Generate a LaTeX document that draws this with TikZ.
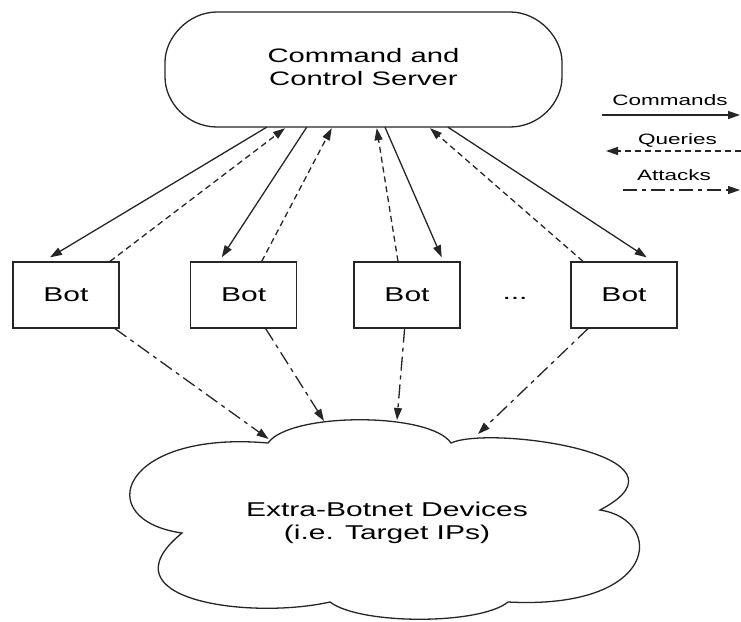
\documentclass[tikz,border=0pt]{standalone}
\usepackage{fontspec}
\setmainfont{Liberation Sans}
\usetikzlibrary{arrows.meta,calc}
\newcommand\wx[1]{\scalebox{1.5}[1]{#1}}
\begin{document}
\begin{tikzpicture}[x=1pt,y=-1pt,
  ln/.style={line width=1.3pt, draw=black!85},
  tipend/.style={-{Triangle[length=12pt,width=8pt]}},
  cmd/.style={ln,tipend},
  qry/.style={ln,tipend,dash pattern=on 6pt off 4pt},
  atk/.style={ln,tipend,dash pattern=on 14pt off 5pt on 4pt off 5pt},
  shapeline/.style={line width=1.3pt, draw=black!85},
  botbox/.style={shapeline, draw, minimum width=106pt, minimum height=66pt, inner sep=0pt, font=\fontsize{20}{24}\selectfont},
  lab/.style={inner sep=0pt, font=\fontsize{15}{18}\selectfont},
]
\useasboundingbox (0,0) rectangle (741,621);
\fill[white] (0,0) rectangle (741,621);

% server
\draw[shapeline] (217,12) -- (510,12) .. controls (539,12) and (562,38) .. (562,62) -- (562,77) .. controls (562,103) and (539,127) .. (510,127) -- (217,127) .. controls (188,127) and (165,103) .. (165,77) -- (165,62) .. controls (165,38) and (188,12) .. (217,12) -- cycle;
\node[minimum width=397pt, minimum height=115pt, inner sep=0pt] (srv) at (363.5,69.5)
  {\fontsize{19.5}{23}\selectfont\wx{\begin{tabular}{@{}c@{}}Command and\\Control Server\end{tabular}}};

% bots
\node[botbox] (b1) at (66,295) {\wx{Bot}};
\node[botbox] (b2) at (243.7,295) {\wx{Bot}};
\node[botbox] (b3) at (407,295) {\wx{Bot}};
\node[botbox] (b4) at (624,295) {\wx{Bot}};
\node[inner sep=0pt, font=\fontsize{20}{24}\selectfont] (dots) at (515,298) {\wx{...}};

% cloud
\draw[shapeline] (268,443) .. controls (290,412) and (430,412) .. (451,443)
  .. controls (490,425) and (705,455) .. (600,510)
  .. controls (665,520) and (660,610) .. (508,602)
  .. controls (480,625) and (360,625) .. (330,602)
  .. controls (250,620) and (100,600) .. (182,533)
  .. controls (90,520) and (120,430) .. (268,443) -- cycle;
\node[inner sep=0pt] (cl) at (387,523)
  {\fontsize{20}{23}\selectfont\wx{\begin{tabular}{@{}c@{}}Extra-Botnet Devices\\(i.e. Target IPs)\end{tabular}}};
\coordinate (t1) at (268.6,439);
\coordinate (t2) at (324,421);
\coordinate (t3) at (397,420);
\coordinate (t4) at (478,434);

% commands
\draw[cmd] ([xshift=-96.8pt]srv.south) -- ([xshift=-16pt,yshift=4pt]b1.north);
\draw[cmd] ([xshift=-56.8pt]srv.south) -- ([xshift=-22pt,yshift=4pt]b2.north);
\draw[cmd] ([xshift=21.5pt]srv.south) -- ([xshift=34.7pt,yshift=4pt]b3.north);
\draw[cmd] ([xshift=84.5pt]srv.south) -- ([xshift=22.7pt,yshift=4pt]b4.north);

% queries
\draw[qry] ([xshift=44pt]b1.north) -- ([xshift=-78.5pt,yshift=-1pt]srv.south);
\draw[qry] ([xshift=18pt]b2.north) -- ([xshift=-31.8pt,yshift=-1pt]srv.south);
\draw[qry] ([xshift=-9pt]b3.north) -- ([xshift=13.2pt,yshift=-1pt]srv.south);
\draw[qry] ([xshift=-41pt]b4.north) -- ([xshift=66.5pt,yshift=-1pt]srv.south);

% attacks
\draw[atk] ([xshift=49pt]b1.south) -- (t1);
\draw[atk] ([xshift=22pt]b2.south) -- (t2);
\draw[atk] ([xshift=-2.4pt]b3.south) -- (t3);
\draw[atk] ([xshift=-36pt]b4.south) -- (t4);

% legend
\node[lab] (lgc) at (670,100) {\wx{Commands}};
\node[lab] (lgq) at (677.5,140) {\wx{Queries}};
\node[lab] (lga) at (674,175) {\wx{Attacks}};
\coordinate (lc1) at (602,115);
\coordinate (lc2) at (740,115);
\coordinate (lq1) at (741,151);
\coordinate (lq2) at (606,151);
\coordinate (la1) at (623,190);
\coordinate (la2) at (740,190);
\draw[cmd] (lc1) -- (lc2);
\draw[qry] (lq1) -- (lq2);
\draw[atk] (la1) -- (la2);
\end{tikzpicture}
\end{document}
